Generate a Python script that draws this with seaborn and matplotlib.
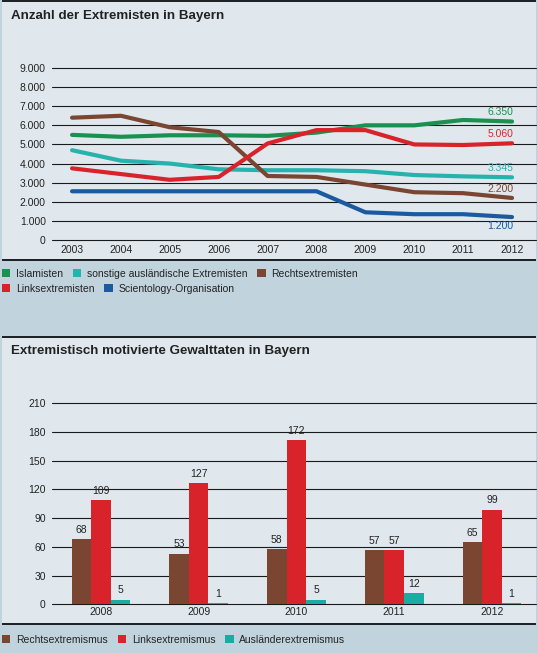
import matplotlib
matplotlib.use("Agg")
import matplotlib.pyplot as plt
from matplotlib.patches import Patch, Rectangle
import pandas as pd
import seaborn as sns

# --- data: Anzahl der Extremisten ---
years = [2003, 2004, 2005, 2006, 2007, 2008, 2009, 2010, 2011, 2012]
islamisten = [5500, 5400, 5480, 5480, 5450, 5620, 6000, 6000, 6280, 6200]
sonstige = [4700, 4150, 4000, 3700, 3650, 3650, 3600, 3400, 3330, 3280]
rechts = [6400, 6500, 5900, 5650, 3350, 3300, 2900, 2500, 2450, 2200]
links = [3750, 3450, 3150, 3300, 5050, 5750, 5750, 5000, 4970, 5060]
scientology = [2550, 2550, 2550, 2550, 2550, 2550, 1450, 1350, 1350, 1200]
line_names = ["Islamisten", "sonstige ausländische Extremisten", "Rechtsextremisten",
              "Linksextremisten", "Scientology-Organisation"]
end_labels = ["6.350", "3.345", "2.200", "5.060", "1.200"]
top_yticks = [0, 1000, 2000, 3000, 4000, 5000, 6000, 7000, 8000, 9000]

# --- data: Gewalttaten ---
bar_years = ["2008", "2009", "2010", "2011", "2012"]
rechts_gew = [68, 53, 58, 57, 65]
links_gew = [109, 127, 172, 57, 99]
auslaender_gew = [5, 1, 5, 12, 1]
bar_names = ["Rechtsextremismus", "Linksextremismus", "Ausländerextremismus"]
bottom_yticks = [0, 30, 60, 90, 120, 150, 180, 210]

line_colors = ["#1a9150", "#27b3ad", "#7a4631", "#d9232b", "#1c5aa0"]
bar_colors = ["#7a4631", "#d9232b", "#1aaba3"]
outer_bg = "#c1d3dd"
panel_bg = "#e0e8ee"
text_col = "#222222"

sns.set_style("white")
plt.rcParams["font.family"] = ["Liberation Sans", "DejaVu Sans"]

W, H = 538, 653
fig = plt.figure(figsize=(W / 100, H / 100), dpi=100, facecolor=outer_bg)


def px_rect(x0, y0, x1, y1, color):
    fig.add_artist(Rectangle((x0 / W, 1 - y1 / H), (x1 - x0) / W, (y1 - y0) / H,
                             transform=fig.transFigure, facecolor=color, edgecolor="none", zorder=0))


def px_axes(left, top, right, bottom):
    ax = fig.add_axes([left / W, 1 - bottom / H, (right - left) / W, (bottom - top) / H])
    ax.set_facecolor("none")
    return ax


def style_axes(ax, xpad):
    for s in ax.spines.values():
        s.set_visible(False)
    ax.grid(axis="y", color="#1a1a1a", linewidth=0.8)
    ax.grid(axis="x", visible=False)
    for gl in ax.get_ygridlines():
        gl.set_clip_on(False)
    ax.tick_params(axis="both", length=0, labelsize=7.5, labelcolor=text_col)
    ax.tick_params(axis="y", pad=4.5)
    ax.tick_params(axis="x", pad=xpad)
    ax.set_xlabel("")
    ax.set_ylabel("")


# panels
px_rect(2, 0, 536, 261, "#1e2328")
px_rect(2, 2, 536, 259, panel_bg)
px_rect(2, 336, 536, 625, "#1e2328")
px_rect(2, 338, 536, 623, panel_bg)

fig.text(11 / W, 1 - 16 / H, "Anzahl der Extremisten in Bayern", fontsize=9.6,
         fontweight="bold", color=text_col, va="center")
fig.text(11 / W, 1 - 351 / H, "Extremistisch motivierte Gewalttaten in Bayern", fontsize=9.6,
         fontweight="bold", color=text_col, va="center")

# --- line chart ---
lines_df = pd.DataFrame({
    "Jahr": years * 5,
    "Anzahl": islamisten + sonstige + rechts + links + scientology,
    "Gruppe": [n for n in line_names for _ in years],
})
ax1 = px_axes(52, 68, 536, 240)
sns.lineplot(data=lines_df, x="Jahr", y="Anzahl", hue="Gruppe", hue_order=line_names,
             palette=dict(zip(line_names, line_colors)), linewidth=3, legend=False, ax=ax1)
ax1.set_xlim(2002.59, 2012.49)
ax1.set_ylim(0, 9000)
ax1.set_xticks(years)
ax1.set_yticks(top_yticks)
ax1.set_yticklabels([f"{v:,}".replace(",", ".") for v in top_yticks])
style_axes(ax1, 3.5)

series = [islamisten, sonstige, rechts, links, scientology]
for vals, lab, col in zip(series, end_labels, line_colors):
    below = lab == "1.200"
    ax1.annotate(lab, xy=(years[-1], vals[-1]), xytext=(1, -6.5 if below else 6.5),
                 textcoords="offset points", ha="right", va="center", fontsize=7.5, color=col)

# --- bar chart ---
bars_df = pd.DataFrame({
    "Jahr": bar_years * 3,
    "Anzahl": rechts_gew + links_gew + auslaender_gew,
    "Art": [n for n in bar_names for _ in bar_years],
})
ax2 = px_axes(52, 403.3, 536, 604.3)
sns.barplot(data=bars_df, x="Jahr", y="Anzahl", hue="Art", hue_order=bar_names,
            palette=dict(zip(bar_names, bar_colors)), width=0.6, saturation=1,
            linewidth=0, edgecolor="none", legend=False, ax=ax2)
ax2.set_xlim(-0.5, 4.45)
ax2.set_ylim(0, 210)
ax2.set_yticks(bottom_yticks)
style_axes(ax2, 2)
for cont in ax2.containers:
    ax2.bar_label(cont, padding=3, fontsize=7.5, color=text_col)

# --- legends ---
leg_kw = dict(loc="upper left", frameon=False, fontsize=7.5, handlelength=0.8,
              handleheight=0.8, handletextpad=0.55, columnspacing=0.95,
              borderaxespad=0, borderpad=0, labelcolor=text_col)


def patches(names, colors):
    return [Patch(facecolor=c, edgecolor="none", label=n) for n, c in zip(names, colors)]


fig.legend(handles=patches(line_names[:3], line_colors[:3]), ncol=3,
           bbox_to_anchor=(2 / W, 1 - 269 / H), **leg_kw)
fig.legend(handles=patches(line_names[3:], line_colors[3:]), ncol=2,
           bbox_to_anchor=(2 / W, 1 - 284 / H), **leg_kw)
fig.legend(handles=patches(bar_names, bar_colors), ncol=3,
           bbox_to_anchor=(2 / W, 1 - 635 / H), **leg_kw)

fig.savefig("out.png", dpi=100, facecolor=outer_bg)
